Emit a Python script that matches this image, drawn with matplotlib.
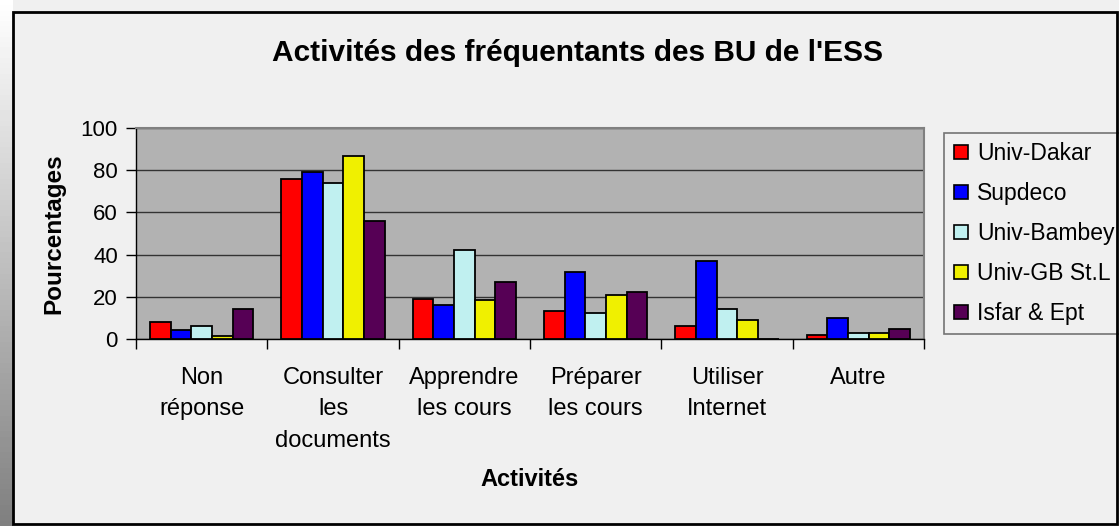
import numpy as np
import matplotlib
matplotlib.use("Agg")
import matplotlib.pyplot as plt
from matplotlib.patches import Rectangle
from matplotlib.lines import Line2D

plt.rcParams['font.family'] = ['Liberation Sans', 'DejaVu Sans']

categories = ["Non\nréponse", "Consulter\nles\ndocuments", "Apprendre\nles cours",
              "Préparer\nles cours", "Utiliser\nInternet", "Autre"]
series_names = ["Univ-Dakar", "Supdeco", "Univ-Bambey", "Univ-GB St.L", "Isfar & Ept"]
univ_dakar = [8.1, 75.7, 18.9, 13.5, 6.0, 1.7]
supdeco = [4.4, 79.3, 16.2, 31.6, 37.0, 9.8]
univ_bambey = [6.2, 74.1, 42.4, 12.4, 14.3, 2.8]
univ_gb = [1.6, 86.5, 18.7, 20.8, 9.0, 2.8]
isfar_ept = [14.3, 55.9, 26.8, 22.4, 0.0, 4.6]
series = [univ_dakar, supdeco, univ_bambey, univ_gb, isfar_ept]
colors = ["#FF0000", "#0000FF", "#C0F0F0", "#F0F000", "#560055"]

W, H = 1119, 526
fig = plt.figure(figsize=(W / 100, H / 100), dpi=100)
fig.patch.set_facecolor("#F0F0F0")

# left shadow strip
strip = fig.add_axes([0, 0, 13 / W, 1])
grad = np.linspace(1.0, 0.5, 100).reshape(-1, 1)
strip.imshow(grad, cmap="gray", vmin=0, vmax=1, aspect="auto", extent=[0, 1, 0, 1], origin="upper")
strip.axis("off")

# outer border
fig.patches.append(Rectangle((13 / W, 2 / H), (1117 - 13) / W, (524 - 12) / H,
                             transform=fig.transFigure, fill=False, edgecolor="black",
                             linewidth=2, zorder=10))

ax = fig.add_axes([136 / W, 1 - 339 / H, 788 / W, 211 / H])
ax.set_facecolor("#B2B2B2")

x = np.arange(len(categories))
bw = 0.157
for i, (vals, name, col) in enumerate(zip(series, series_names, colors)):
    ax.bar(x + (i - 2) * bw, vals, width=bw, color=col, edgecolor="black",
           linewidth=1.3, label=name, zorder=3)

ax.set_xlim(-0.5, len(categories) - 0.5)
ax.set_ylim(0, 100)
ax.set_yticks(np.arange(0, 101, 20))
ax.yaxis.grid(True, color="#333333", linewidth=1, zorder=1)
ax.set_axisbelow(True)

ax.set_xticks(x)
ax.set_xticklabels(categories, fontsize=17, linespacing=1.56, va="top")
ax.tick_params(axis="x", which="major", length=0, pad=20)
ax.set_xticks(np.arange(-0.5, len(categories) + 0.5, 1), minor=True)
ax.tick_params(axis="x", which="minor", length=7, width=1, color="black")
ax.tick_params(axis="y", labelsize=16, length=7, width=1, pad=6)

for s in ["top", "right"]:
    ax.spines[s].set_color("#808080")
    ax.spines[s].set_linewidth(1.5)
for s in ["left", "bottom"]:
    ax.spines[s].set_color("black")
    ax.spines[s].set_linewidth(1)

ax.set_ylabel("Pourcentages", fontsize=17.5, fontweight="bold", labelpad=11)
ax.set_xlabel("Activités", fontsize=17, fontweight="bold", labelpad=12)

fig.text(578 / W, 1 - 53 / H, "Activités des fréquentants des BU de l'ESS",
         fontsize=21.5, fontweight="bold", ha="center", va="center")

handles = [Line2D([0], [0], marker="s", linestyle="none", markersize=9.5,
                  markerfacecolor=c, markeredgecolor="black", markeredgewidth=1.2)
           for c in colors]
leg = fig.legend(handles, series_names, loc="upper left",
                 bbox_to_anchor=(944 / W, 1 - 133 / H), bbox_transform=fig.transFigure,
                 fontsize=16.5, frameon=True, fancybox=False, labelspacing=0.74,
                 handletextpad=0.35, handlelength=0.7, borderpad=0.4, borderaxespad=0)
leg.get_frame().set_facecolor("#F0F0F0")
leg.get_frame().set_edgecolor("#555555")
leg.get_frame().set_linewidth(1.2)

fig.savefig("out.png", dpi=100, facecolor=fig.get_facecolor())
